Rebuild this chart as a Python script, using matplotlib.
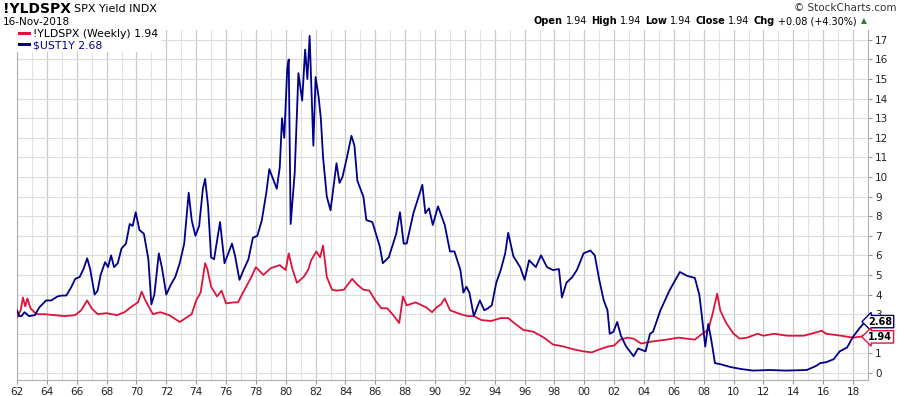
import numpy as np
import matplotlib
matplotlib.use("Agg")
import matplotlib.pyplot as plt
from matplotlib.lines import Line2D
from matplotlib.transforms import blended_transform_factory

plt.rcParams["font.family"] = ["DejaVu Sans"]

# ── data (decimal year, percent) ─────────────────────────────────────────────
ust_x = [1962.0, 1962.15, 1962.3, 1962.5, 1962.8, 1963.2, 1963.5, 1963.95, 1964.3, 1964.7,
         1965.0, 1965.3, 1965.65, 1965.9, 1966.2, 1966.45, 1966.7, 1966.9, 1967.2, 1967.4,
         1967.6, 1967.9, 1968.1, 1968.3, 1968.5, 1968.75, 1969.0, 1969.3, 1969.55, 1969.75,
         1969.95, 1970.2, 1970.5, 1970.8, 1971.0, 1971.2, 1971.5, 1971.7, 1972.0, 1972.3,
         1972.6, 1972.9, 1973.2, 1973.5, 1973.7, 1973.95, 1974.2, 1974.45, 1974.6, 1974.8,
         1975.0, 1975.2, 1975.6, 1975.9, 1976.1, 1976.4, 1976.6, 1976.9, 1977.2, 1977.5,
         1977.8, 1978.1, 1978.4, 1978.7, 1978.9, 1979.2, 1979.4, 1979.6, 1979.75, 1979.9,
         1980.1, 1980.2, 1980.33, 1980.6, 1980.85, 1981.1, 1981.3, 1981.45, 1981.6, 1981.85,
         1982.0, 1982.2, 1982.35, 1982.5, 1982.75, 1983.0, 1983.4, 1983.6, 1983.8, 1984.1,
         1984.4, 1984.6, 1984.8, 1985.2, 1985.4, 1985.8, 1986.3, 1986.5, 1986.9, 1987.4,
         1987.65, 1987.9, 1988.1, 1988.55, 1988.9, 1989.15, 1989.35, 1989.6, 1989.85, 1990.2,
         1990.65, 1991.0, 1991.3, 1991.7, 1991.9, 1992.1, 1992.3, 1992.6, 1993.0, 1993.3,
         1993.55, 1993.8, 1994.1, 1994.4, 1994.7, 1994.9, 1995.25, 1995.7, 1996.0, 1996.3,
         1996.75, 1997.1, 1997.5, 1997.9, 1998.3, 1998.5, 1998.8, 1999.2, 1999.5, 1999.95,
         2000.4, 2000.7, 2001.0, 2001.3, 2001.55, 2001.7, 2001.95, 2002.2, 2002.45, 2002.8,
         2003.3, 2003.6, 2004.1, 2004.4, 2004.6, 2005.1, 2005.7, 2006.1, 2006.4, 2006.9,
         2007.4, 2007.7, 2007.85, 2008.1, 2008.3, 2008.5, 2008.75, 2009.1, 2009.8, 2010.5,
         2011.3, 2012.4, 2013.5, 2014.9, 2015.5, 2015.8, 2016.2, 2016.7, 2017.1, 2017.6,
         2018.0, 2018.45, 2018.88]
ust_y = [3.2, 2.9, 2.9, 3.1, 2.9, 2.95, 3.35, 3.7, 3.7, 3.9,
         3.95, 3.95, 4.4, 4.8, 4.9, 5.3, 5.85, 5.3, 4.0, 4.2,
         5.0, 5.65, 5.4, 6.0, 5.4, 5.6, 6.35, 6.6, 7.6, 7.5,
         8.2, 7.3, 7.1, 5.8, 3.5, 4.0, 6.1, 5.4, 4.0, 4.5,
         4.9, 5.6, 6.6, 9.2, 7.8, 7.0, 7.5, 9.4, 9.9, 8.5,
         5.9, 5.8, 7.7, 5.6, 6.0, 6.6, 6.0, 4.75, 5.3, 5.8,
         6.9, 7.0, 7.8, 9.2, 10.4, 9.8, 9.4, 10.5, 13.0, 12.0,
         15.5, 16.0, 7.6, 10.2, 15.3, 13.9, 16.5, 15.0, 17.2, 11.6,
         15.1, 14.1, 13.0, 11.0, 9.0, 8.3, 10.7, 9.7, 10.0, 11.0,
         12.1, 11.6, 9.8, 9.0, 7.8, 7.7, 6.45, 5.6, 5.9, 7.1,
         8.2, 6.6, 6.6, 8.15, 9.0, 9.6, 8.15, 8.4, 7.55, 8.5,
         7.55, 6.2, 6.2, 5.25, 4.1, 4.4, 4.1, 2.9, 3.7, 3.2,
         3.3, 3.45, 4.6, 5.25, 6.1, 7.15, 5.95, 5.4, 4.75, 5.75,
         5.4, 6.0, 5.4, 5.25, 5.3, 3.85, 4.6, 4.9, 5.25, 6.1,
         6.25, 6.0, 4.75, 3.7, 3.2, 2.0, 2.1, 2.6, 1.9, 1.35,
         0.85, 1.25, 1.1, 2.0, 2.1, 3.2, 4.2, 4.75, 5.15, 4.95,
         4.85, 4.0, 3.05, 1.35, 2.5, 1.7, 0.5, 0.45, 0.3, 0.2,
         0.12, 0.15, 0.12, 0.15, 0.35, 0.5, 0.55, 0.7, 1.1, 1.3,
         1.85, 2.3, 2.68]

yld_x = [1962.0, 1962.25, 1962.4, 1962.55, 1962.7, 1962.9, 1963.3, 1963.8, 1964.5, 1965.2,
         1965.9, 1966.3, 1966.7, 1967.0, 1967.4, 1968.0, 1968.7, 1969.2, 1969.7, 1970.1,
         1970.35, 1970.6, 1971.1, 1971.6, 1972.2, 1972.9, 1973.3, 1973.7, 1974.0, 1974.3,
         1974.6, 1974.75, 1975.0, 1975.4, 1975.7, 1976.0, 1976.5, 1976.8, 1977.1, 1977.7,
         1978.0, 1978.5, 1979.0, 1979.6, 1980.0, 1980.2, 1980.45, 1980.75, 1981.2, 1981.5,
         1981.7, 1982.05, 1982.3, 1982.5, 1982.75, 1983.1, 1983.4, 1983.9, 1984.45, 1984.8,
         1985.2, 1985.6, 1986.0, 1986.4, 1986.8, 1987.2, 1987.6, 1987.85, 1988.1, 1988.7,
         1989.4, 1989.8, 1990.1, 1990.4, 1990.65, 1991.0, 1991.7, 1992.2, 1992.6, 1993.1,
         1993.75, 1994.4, 1994.9, 1995.3, 1995.9, 1996.6, 1997.3, 1997.9, 1998.6, 1999.3,
         1999.95, 2000.5, 2001.0, 2001.6, 2002.0, 2002.4, 2002.9, 2003.3, 2003.8, 2004.5,
         2005.5, 2006.3, 2007.4, 2007.9, 2008.3, 2008.6, 2008.9, 2009.1, 2009.5, 2010.0,
         2010.4, 2010.9, 2011.6, 2012.0, 2012.7, 2013.6, 2014.7, 2015.9, 2016.2, 2017.2,
         2018.0, 2018.5, 2018.88]
yld_y = [2.85, 3.2, 3.85, 3.4, 3.8, 3.3, 3.0, 3.0, 2.95, 2.9,
         2.95, 3.2, 3.7, 3.3, 3.0, 3.05, 2.95, 3.1, 3.4, 3.6,
         4.15, 3.7, 3.0, 3.1, 2.95, 2.6, 2.8, 3.0, 3.7, 4.1,
         5.6, 5.3, 4.4, 3.9, 4.2, 3.55, 3.6, 3.6, 4.05, 4.9,
         5.4, 5.0, 5.35, 5.5, 5.25, 6.1, 5.3, 4.6, 4.9, 5.25,
         5.75, 6.2, 5.9, 6.5, 4.9, 4.25, 4.2, 4.25, 4.8, 4.5,
         4.25, 4.2, 3.7, 3.3, 3.3, 2.95, 2.55, 3.9, 3.45, 3.6,
         3.35, 3.1, 3.35, 3.5, 3.8, 3.2, 3.0, 2.9, 2.9, 2.7,
         2.65, 2.8, 2.8, 2.55, 2.2, 2.1, 1.8, 1.45, 1.35, 1.2,
         1.1, 1.05, 1.2, 1.35, 1.4, 1.7, 1.8, 1.75, 1.5, 1.6,
         1.7, 1.8, 1.7, 2.0, 2.2, 3.05, 4.05, 3.2, 2.55, 2.0,
         1.75, 1.8, 2.0, 1.9, 2.0, 1.9, 1.9, 2.15, 2.0, 1.9,
         1.8, 1.85, 1.94]

year_ticks = list(range(1962, 2019, 2))
y_ticks = list(range(0, 18))

RED = "#dc143c"
BLUE = "#00008b"

fig = plt.figure(figsize=(9, 3.96), dpi=100)
ax = fig.add_axes([17 / 900, 1 - 380 / 396, (868 - 17) / 900, (380 - 30) / 396])

ax.plot(yld_x, yld_y, color=RED, linewidth=1.3, zorder=3)
ax.plot(ust_x, ust_y, color=BLUE, linewidth=1.3, zorder=3)

ax.set_xlim(1962, 2019)
ax.set_ylim(-0.36, 17.5)

ax.set_xticks(year_ticks)
ax.set_xticklabels([f"{y % 100:02d}" for y in year_ticks])
ax.set_xticks(list(range(1963, 2019, 2)), minor=True)
ax.set_yticks(y_ticks)
# the "2" label sits fully behind the value tags, as on the original
ax.set_yticklabels(["" if v == 2 else str(v) for v in y_ticks])
ax.yaxis.tick_right()

ax.grid(which="major", axis="x", color="#c8c8c8", linewidth=0.9)
ax.grid(which="minor", axis="x", color="#e2e2e2", linewidth=0.8)
ax.grid(which="major", axis="y", color="#dcdcdc", linewidth=0.8)
ax.set_axisbelow(True)

ax.tick_params(axis="both", which="major", labelsize=7.5, length=3, color="#999999",
               labelcolor="#222222", pad=2)
ax.tick_params(axis="x", which="minor", length=0)
for side in ["left", "bottom", "right"]:
    ax.spines[side].set_color("#b0b0b0")
ax.spines["top"].set_visible(False)

# legend
handles = [Line2D([0], [0], color=RED, lw=2.2), Line2D([0], [0], color=BLUE, lw=2.2)]
leg = ax.legend(handles, ["!YLDSPX (Weekly) 1.94", "$UST1Y 2.68"], loc="upper left",
                bbox_to_anchor=(0, 1.01), fontsize=7.8, handlelength=0.9, handletextpad=0.4,
                borderpad=0.2, labelspacing=0.15, frameon=True, fancybox=False,
                borderaxespad=0)
leg.get_frame().set_edgecolor("none")
leg.get_frame().set_facecolor("white")
leg.get_frame().set_alpha(1)
leg.get_texts()[1].set_color(BLUE)

# value tags on right axis
tr = blended_transform_factory(ax.transAxes, ax.transData)
for val, col, ypos in [(2.68, BLUE, 2.62), (1.94, RED, 1.84)]:
    ax.text(1.0005, ypos, f"{val:.2f}", transform=tr, fontsize=7, fontweight="bold",
            va="center", ha="left", color="black", zorder=5, clip_on=False,
            bbox=dict(boxstyle="larrow,pad=0.12", fc="white", ec=col, lw=1.0))

# header
fig.text(3 / 900, 1 - 9 / 396, "!YLDSPX", fontsize=10, fontweight="bold", va="center")
fig.text(74 / 900, 1 - 9 / 396, "SPX Yield INDX", fontsize=8, va="center")
fig.text(3 / 900, 1 - 22 / 396, "16-Nov-2018", fontsize=7.5, va="center")
fig.text(897 / 900, 1 - 8 / 396, "\u00a9 StockCharts.com", fontsize=7.5, va="center",
         ha="right", color="#333333")

# quote line, laid out piece by piece so the pieces never overlap
parts = [("Open", True), ("1.94", False), ("High", True), ("1.94", False),
         ("Low", True), ("1.94", False), ("Close", True), ("1.94", False),
         ("Chg", True), ("+0.08 (+4.30%)", False)]
renderer = fig.canvas.get_renderer()
xp = 534.0
for i, (txt, bold) in enumerate(parts):
    t = fig.text(xp / 900, 1 - 21 / 396, txt, fontsize=7,
                 fontweight="bold" if bold else "normal", va="center")
    w = t.get_window_extent(renderer).width
    xp += w + (2.5 if bold else 4.5)
fig.text(xp / 900, 1 - 21 / 396, "\u25b2", fontsize=5.5, color="#2e7d32", va="center")

fig.savefig("out.png", dpi=100)
